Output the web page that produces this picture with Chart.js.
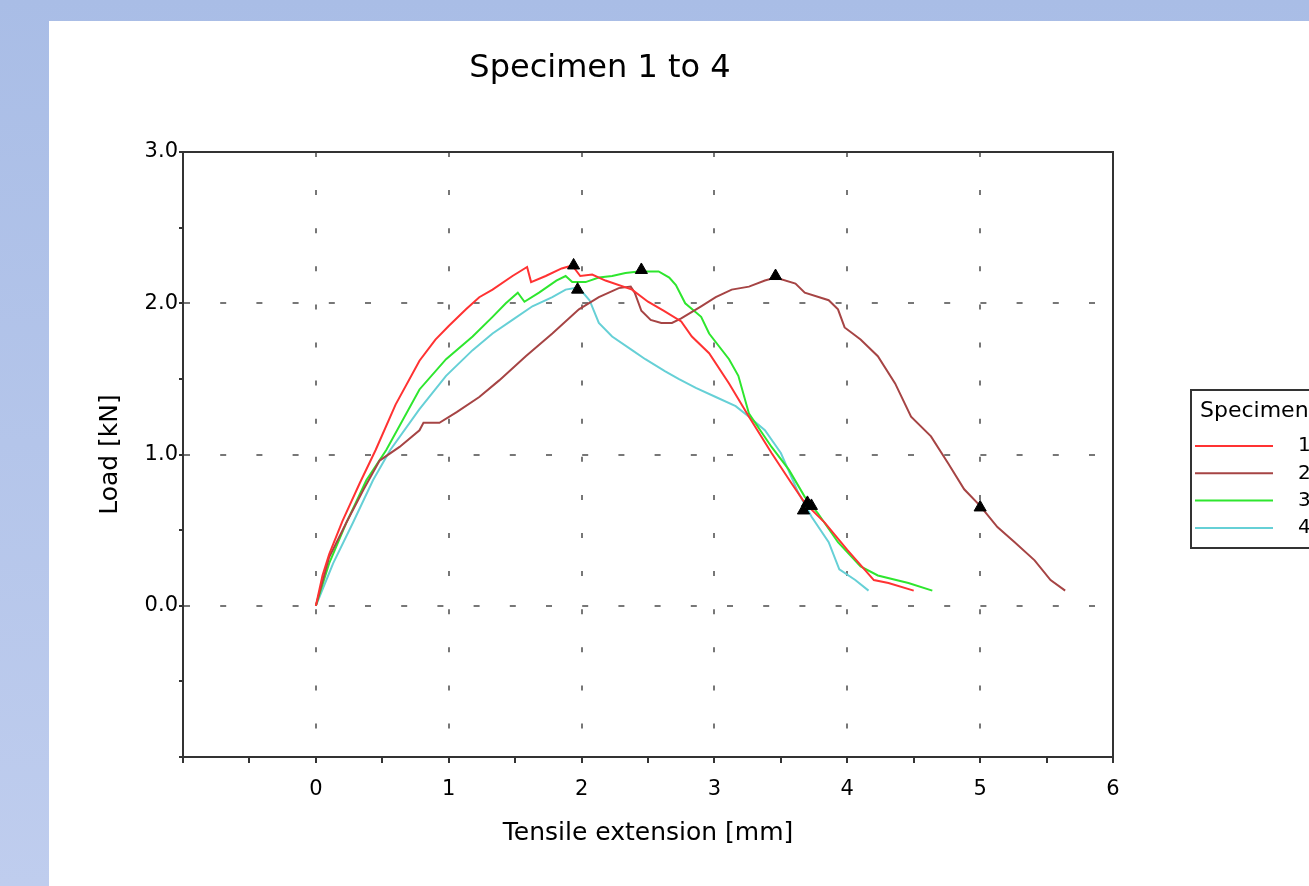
<!DOCTYPE html>
<html>
<head>
<title>Specimen 1 to 4</title>
<script src="https://cdn.jsdelivr.net/npm/chart.js"></script>
<style>
  html, body { margin: 0; width: 1309px; height: 886px; overflow: hidden; }
  body { background: linear-gradient(to bottom, #a9bde6, #bfcdee); position: relative; }
  #panel { position: absolute; left: 49px; top: 21px; width: 1330px; height: 865px; background: #fff; }
</style>
</head>
<body>
<div id="panel"><canvas id="myChart"></canvas></div>
<script>
const ctx = document.getElementById('myChart').getContext('2d');

// 그래프 제목 / 축 제목
const chartTitle = 'Specimen 1 to 4';
const legendTitle = 'Specimen';
const xTitle = 'Tensile extension [mm]';
const yTitle = 'Load [kN]';

// 시편 1 (red)
const spec1Ext  = [0, 0.05, 0.1, 0.2, 0.33, 0.45, 0.6, 0.78, 0.9, 1.0, 1.13, 1.23, 1.33, 1.48, 1.59, 1.62, 1.73, 1.85, 1.93, 1.99, 2.08, 2.18, 2.38, 2.5, 2.62, 2.75, 2.83, 2.96, 3.11, 3.26, 3.43, 3.58, 3.68, 3.83, 4.0, 4.2, 4.31, 4.5];
const spec1Load = [0, 0.2, 0.34, 0.56, 0.81, 1.03, 1.33, 1.62, 1.76, 1.85, 1.96, 2.04, 2.09, 2.18, 2.24, 2.14, 2.18, 2.23, 2.25, 2.18, 2.19, 2.15, 2.09, 2.01, 1.95, 1.88, 1.78, 1.67, 1.47, 1.25, 1.01, 0.81, 0.68, 0.55, 0.37, 0.17, 0.15, 0.1];

// 시편 2 (brown)
const spec2Ext  = [0, 0.1, 0.23, 0.36, 0.48, 0.63, 0.78, 0.81, 0.93, 1.06, 1.23, 1.38, 1.58, 1.78, 1.98, 2.13, 2.28, 2.37, 2.4, 2.45, 2.52, 2.6, 2.68, 2.75, 2.9, 3.01, 3.13, 3.26, 3.38, 3.46, 3.61, 3.68, 3.86, 3.93, 3.98, 4.1, 4.23, 4.36, 4.48, 4.63, 4.76, 4.88, 5.0, 5.13, 5.26, 5.41, 5.53, 5.64];
const spec2Load = [0, 0.32, 0.55, 0.77, 0.96, 1.05, 1.16, 1.21, 1.21, 1.28, 1.38, 1.49, 1.65, 1.8, 1.96, 2.04, 2.1, 2.11, 2.07, 1.95, 1.89, 1.87, 1.87, 1.9, 1.98, 2.04, 2.09, 2.11, 2.15, 2.17, 2.13, 2.07, 2.02, 1.96, 1.84, 1.76, 1.65, 1.47, 1.25, 1.12, 0.94, 0.77, 0.66, 0.52, 0.42, 0.3, 0.17, 0.1];

// 시편 3 (green)
const spec3Ext  = [0, 0.1, 0.23, 0.38, 0.53, 0.78, 0.98, 1.18, 1.33, 1.43, 1.52, 1.57, 1.68, 1.81, 1.88, 1.93, 2.03, 2.13, 2.23, 2.33, 2.43, 2.58, 2.66, 2.71, 2.78, 2.9, 2.96, 3.11, 3.18, 3.26, 3.43, 3.56, 3.68, 3.78, 3.93, 4.1, 4.23, 4.46, 4.64];
const spec3Load = [0, 0.28, 0.55, 0.83, 1.03, 1.43, 1.63, 1.78, 1.91, 2.0, 2.07, 2.01, 2.07, 2.15, 2.18, 2.14, 2.14, 2.17, 2.18, 2.2, 2.21, 2.21, 2.17, 2.12, 2.0, 1.91, 1.8, 1.63, 1.52, 1.27, 1.05, 0.9, 0.72, 0.61, 0.42, 0.26, 0.2, 0.15, 0.1];

// 시편 4 (cyan)
const spec4Ext  = [0, 0.13, 0.28, 0.43, 0.56, 0.78, 0.98, 1.18, 1.33, 1.48, 1.63, 1.78, 1.88, 1.95, 2.0, 2.06, 2.13, 2.23, 2.38, 2.48, 2.63, 2.73, 2.86, 3.01, 3.16, 3.26, 3.38, 3.5, 3.63, 3.73, 3.86, 3.94, 4.06, 4.16];
const spec4Load = [0, 0.28, 0.55, 0.83, 1.03, 1.3, 1.52, 1.69, 1.8, 1.89, 1.98, 2.04, 2.09, 2.1, 2.08, 2.02, 1.87, 1.78, 1.69, 1.63, 1.55, 1.5, 1.44, 1.38, 1.32, 1.25, 1.16, 1.01, 0.75, 0.59, 0.42, 0.24, 0.17, 0.1];

// 최대하중 / 파단 표시 (▲)
const markerExt  = [1.94, 1.97, 2.45, 3.46, 3.67, 3.7, 3.73, 5.0];
const markerLoad = [2.25, 2.09, 2.22, 2.18, 0.63, 0.68, 0.66, 0.65];

const specLabels = ['1', '2', '3', '4'];
const specColors = ['#ff3232', '#a64444', '#2ee62e', '#66d0d6'];

const FONT = "'DejaVu Sans', Verdana, sans-serif";
const TEXT = '#000';

function toPoints(xs, ys) {
    return xs.map((x, i) => ({ x: x, y: ys[i] }));
}

const series = [[spec1Ext, spec1Load], [spec2Ext, spec2Load], [spec3Ext, spec3Load], [spec4Ext, spec4Load]];

const datasets = series.map((s, i) => ({
    label: specLabels[i],
    data: toPoints(s[0], s[1]),
    borderColor: specColors[i],
    backgroundColor: specColors[i],
    borderWidth: 2,
    showLine: true,
    pointRadius: 0,
    tension: 0,
    order: i + 1
}));

datasets.push({
    label: 'markers',
    isMarker: true,
    data: toPoints(markerExt, markerLoad),
    pointStyle: 'triangle',
    pointRadius: 7,
    backgroundColor: '#000',
    borderColor: '#000',
    showLine: false,
    order: 0
});

// 제목, 테두리, 범례는 직접 그림
const decorPlugin = {
    id: 'decor',
    beforeDatasetsDraw(chart) {
        const a = chart.chartArea;
        const c = chart.ctx;
        c.save();
        c.strokeStyle = '#333';
        c.lineWidth = 2;
        c.beginPath();
        c.moveTo(a.left, a.top);
        c.lineTo(a.right, a.top);
        c.lineTo(a.right, a.bottom);
        c.stroke();
        c.restore();
    },
    afterDraw(chart) {
        const c = chart.ctx;
        c.save();
        // title
        c.fillStyle = TEXT;
        c.font = '32px ' + FONT;
        c.textAlign = 'center';
        c.textBaseline = 'alphabetic';
        c.fillText(chartTitle, 551, 56);

        // legend box
        const bx = 1142, by = 369, bh = 158;
        c.strokeStyle = '#333';
        c.lineWidth = 2;
        c.strokeRect(bx, by, 240, bh);
        c.font = '22px ' + FONT;
        c.textAlign = 'left';
        c.fillText(legendTitle, bx + 9, by + 27);
        c.textBaseline = 'middle';
        chart.data.datasets.filter(d => !d.isMarker).forEach((d, i) => {
            const y = by + 56 + i * 27.3;
            c.strokeStyle = d.borderColor;
            c.lineWidth = 2;
            c.beginPath();
            c.moveTo(bx + 4, y);
            c.lineTo(bx + 82, y);
            c.stroke();
            c.fillStyle = TEXT;
            c.font = '20px ' + FONT;
            c.fillText(d.label, bx + 107, y);
        });
        c.restore();
    }
};

const isMajor = (v, lo, hi) => Number.isInteger(v) && v > lo && v < hi;

new Chart(ctx, {
    type: 'scatter',
    data: { datasets: datasets },
    options: {
        responsive: true,
        maintainAspectRatio: false,
        animation: false,
        layout: { padding: { top: 131, right: 266, left: 0, bottom: 0 } },
        plugins: {
            legend: { display: false },
            title: { display: false },
            tooltip: { enabled: false }
        },
        scales: {
            x: {
                type: 'linear',
                min: -1,
                max: 6,
                afterFit: s => { s.height = 129; },
                ticks: {
                    stepSize: 0.5,
                    autoSkip: false,
                    maxRotation: 0,
                    padding: 14,
                    color: TEXT,
                    font: { family: FONT, size: 21 },
                    callback: v => (Number.isInteger(v) && v >= 0) ? String(v) : ''
                },
                grid: {
                    color: c => isMajor(c.tick.value, -1, 6) ? '#777' : 'rgba(0,0,0,0)',
                    lineWidth: 2,
                    tickColor: '#333',
                    tickLength: 6,
                    tickWidth: 2
                },
                border: { color: '#333', width: 2, dash: [5, 33.1] },
                title: {
                    display: true,
                    text: xTitle,
                    color: TEXT,
                    font: { family: FONT, size: 25 },
                    padding: { top: 0, bottom: 38 }
                }
            },
            y: {
                min: -1,
                max: 3,
                afterFit: s => { s.width = 134; },
                ticks: {
                    stepSize: 0.5,
                    autoSkip: false,
                    padding: 1,
                    color: TEXT,
                    font: { family: FONT, size: 21 },
                    callback: v => (Number.isInteger(v) && v >= 0) ? v.toFixed(1) : ''
                },
                grid: {
                    color: c => isMajor(c.tick.value, -1, 3) ? '#777' : 'rgba(0,0,0,0)',
                    lineWidth: 2,
                    tickColor: '#333',
                    tickLength: 4,
                    tickWidth: 2
                },
                border: { color: '#333', width: 2, dash: [6, 30.2] },
                title: {
                    display: true,
                    text: yTitle,
                    color: TEXT,
                    font: { family: FONT, size: 25 },
                    padding: { top: 46, bottom: 0 }
                }
            }
        }
    },
    plugins: [decorPlugin]
});
</script>
</body>
</html>
